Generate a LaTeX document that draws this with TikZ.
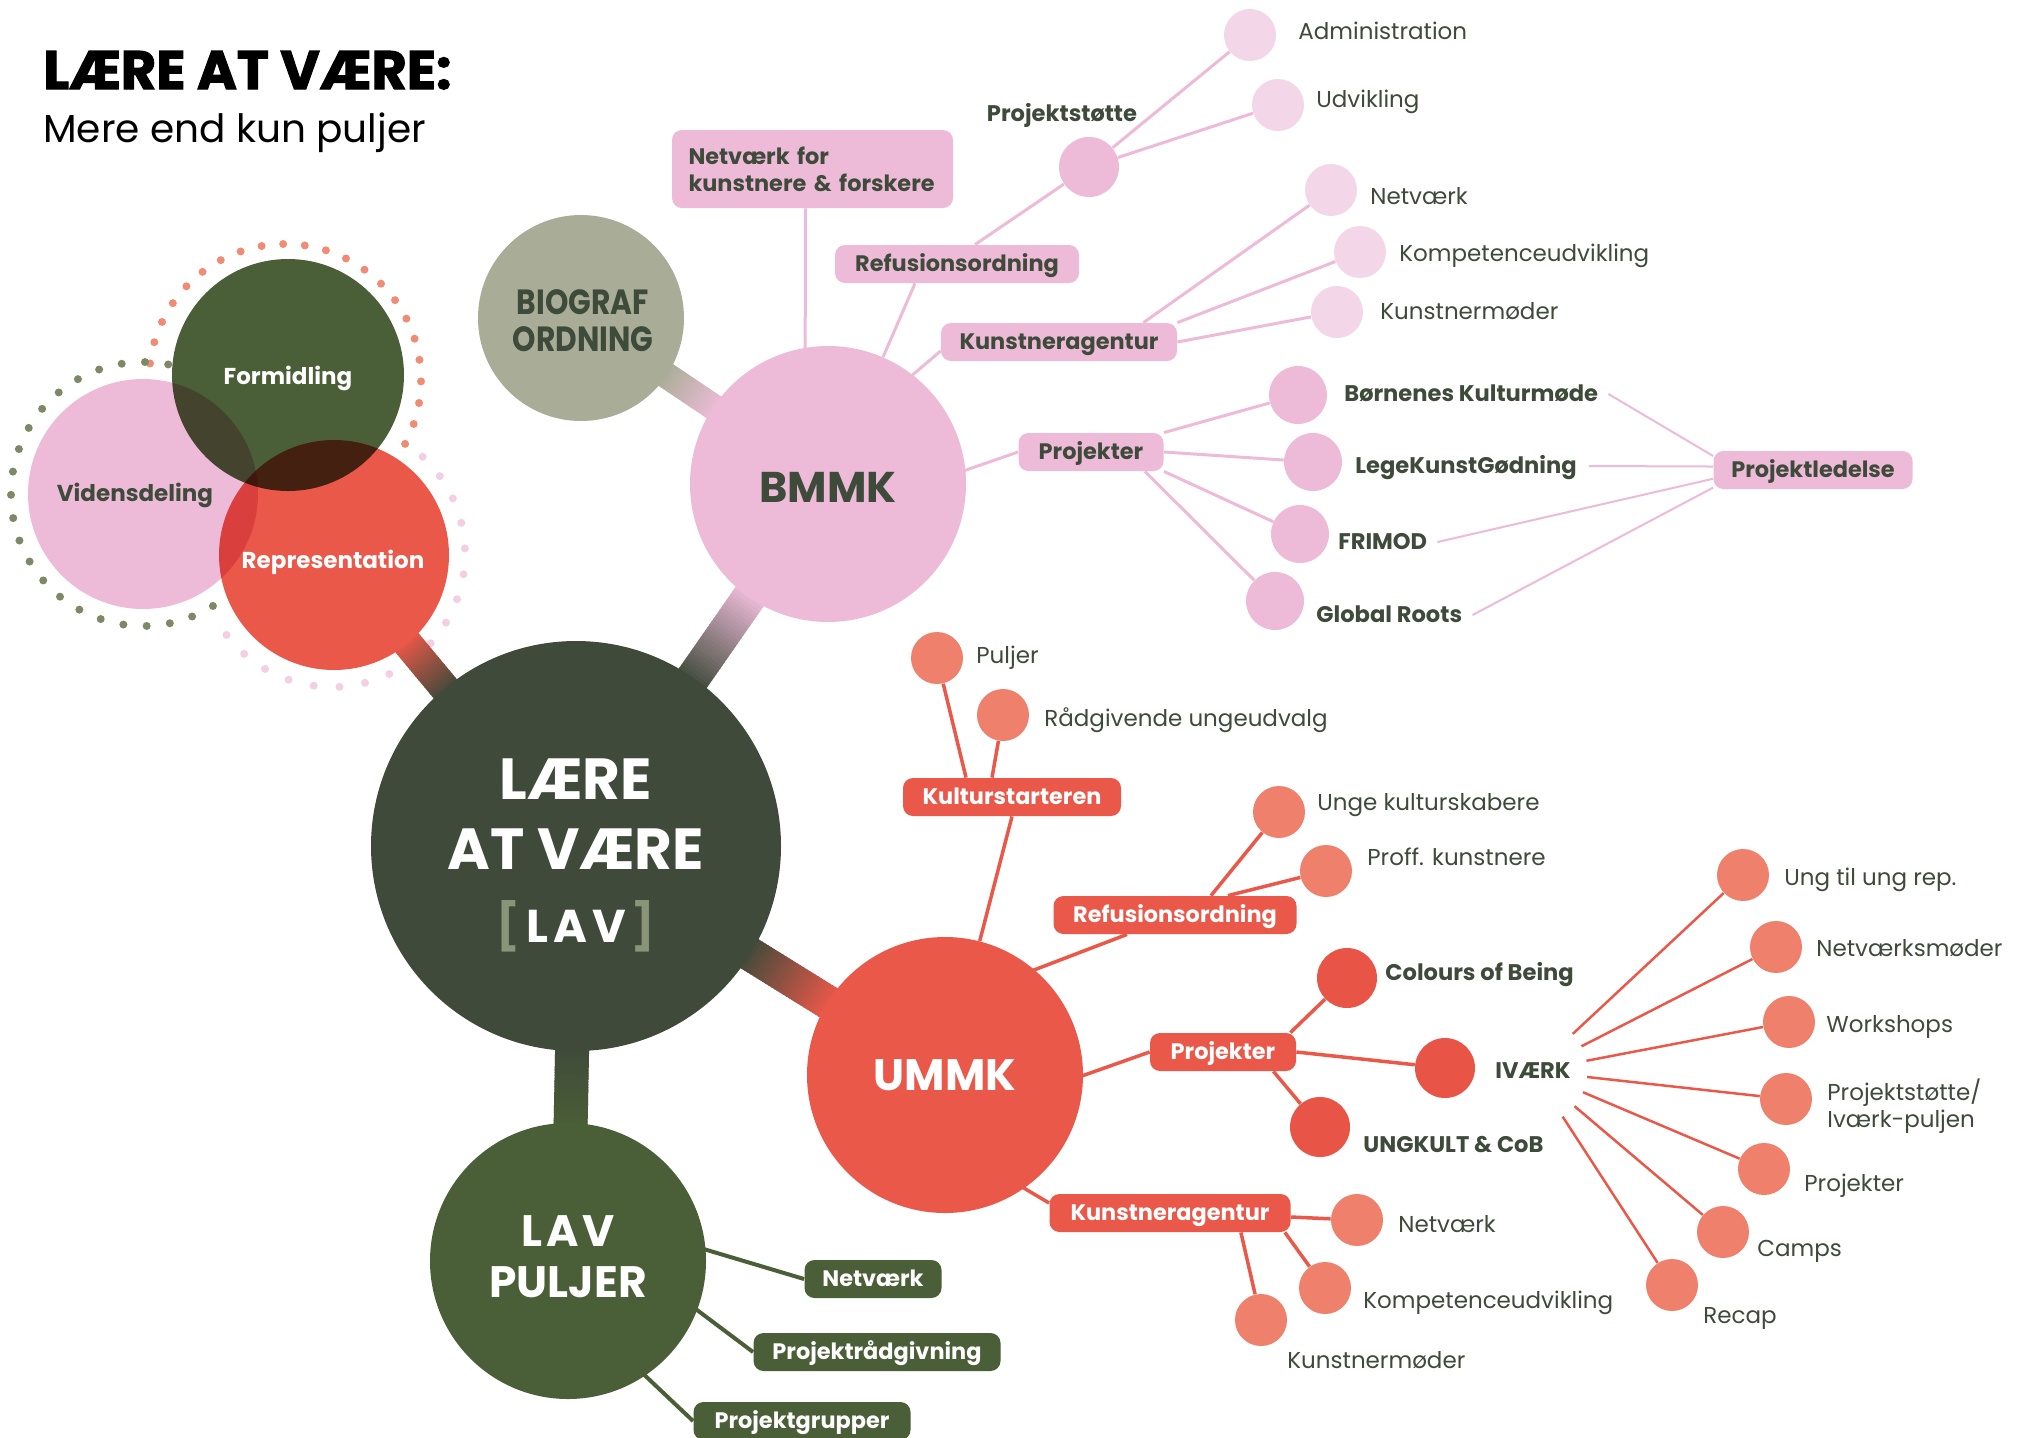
\documentclass[tikz,border=0pt]{standalone}
\usepackage{fontspec}
\usepackage{graphicx}
\setmainfont{Poppins}
\newfontfamily\condfont[FakeStretch=0.85]{Poppins}
\newfontfamily\heavyfont[FakeBold=2]{Poppins}
\usetikzlibrary{calc}
\pgfdeclarelayer{back}
\pgfdeclarelayer{bg}
\pgfsetlayers{back,bg,main}
\definecolor{dk}{HTML}{3F4A3A}
\definecolor{txt}{HTML}{3E4A3A}
\definecolor{lavg}{HTML}{4A5E37}
\definecolor{pinkM}{HTML}{EDBBD8}
\definecolor{pinkL}{HTML}{F4D6E9}
\definecolor{redM}{HTML}{EA5849}
\definecolor{redD}{HTML}{E85446}
\definecolor{salm}{HTML}{EF806B}
\definecolor{bio}{HTML}{A9AD97}
\definecolor{dotg}{HTML}{7D8866}
\definecolor{doto}{HTML}{F08B75}
\definecolor{dotp}{HTML}{F3CFE4}
\definecolor{brk}{HTML}{8A9478}
\newcommand\bandseg[5]{%
\foreach \i in {0,...,29}{%
 \pgfmathsetmacro\ta{\i/30}%
 \pgfmathsetmacro\tb{(\i+1.4)/30}%
 \pgfmathtruncatemacro\pc{100-\i*100/29}%
 \draw[line width=#5,draw={#3!\pc!#4}] ($(#1)!\ta!(#2)$) -- ($(#1)!\tb!(#2)$);}}
\tikzset{
 circ/.style={circle, inner sep=0pt, minimum size=#1},
 ctext/.style={inner sep=0pt, text depth=0pt},
 lbl/.style={anchor=west, inner sep=0pt, text=txt, font=\fontsize{11.5}{13}\selectfont, text height=8pt, text depth=0pt},
 blbl/.style={anchor=west, inner sep=0pt, text=txt, font=\fontsize{11.3}{13}\selectfont\bfseries, text height=7.9pt, text depth=0pt},
 box/.style={rounded corners=5pt, minimum height=19pt, inner xsep=7pt, inner ysep=0pt, font=\fontsize{11.2}{13}\selectfont\bfseries},
 sbox/.style={box, text height=7.8pt, text depth=0pt},
 pbox/.style={sbox, fill=pinkM, text=txt},
 rbox/.style={sbox, fill=redM, text=white},
 gbox/.style={sbox, fill=lavg, text=white},
 pline/.style={draw=pinkM, line width=1.5pt},
 tline/.style={draw=pinkM, line width=1pt},
 rline/.style={draw=redM, line width=1.75pt},
 iline/.style={draw=redM, line width=1.25pt},
 gline/.style={draw=lavg, line width=2pt},
}
\begin{document}
\begin{tikzpicture}[x=0.5pt,y=-0.5pt]
\useasboundingbox (0,0) rectangle (2020,1437);
\begin{pgfonlayer}{back}
\fill[white] (0,0) rectangle (2020,1437);
\end{pgfonlayer}

% ---------- title ----------
\node[anchor=base west, inner sep=0pt] (title) at (43,89) {\resizebox{204pt}{19pt}{\heavyfont\bfseries LÆRE AT VÆRE:}};
\node[anchor=base west, inner sep=0pt, font=\fontsize{19.5}{21}\selectfont] (subtitle) at (43,142) {Mere end kun puljer};

% ---------- big circles ----------
\node[circ=205pt, fill=dk] (main) at (576,846) {};
\node[circ=138pt, fill=lavg] (lav) at (568,1261) {};
\node[circ=138pt, fill=redM] (ummk) at (945,1075) {};
\node[circ=138pt, fill=pinkM] (bmmk) at (828,484) {};
\node[circ=103pt, fill=bio] (bio) at (581,318) {};

\begin{scope}[blend group=multiply]
\node[circ=115pt, fill=pinkM] (viden) at (143,494) {};
\node[circ=116pt, fill=lavg] (formid) at (288,375) {};
\node[circ=115pt, fill=redM] (repr) at (334,555) {};
\end{scope}

\node[ctext, text=white, font=\fontsize{11.5}{13}\selectfont\bfseries, text height=8pt] (t-formid) at (288,376) {Formidling};
\node[ctext, text=txt, font=\fontsize{11.5}{13}\selectfont\bfseries, text height=8pt] (t-viden) at (135,493) {Vidensdeling};
\node[ctext, text=white, font=\fontsize{11.5}{13}\selectfont\bfseries, text height=8pt] (t-repr) at (333,560) {Representation};

\node[ctext, text=white, font=\fontsize{29}{30}\selectfont\bfseries, text height=20.3pt] (t-laere) at (576,779) {LÆRE};
\node[ctext, text=white, font=\fontsize{29}{30}\selectfont\bfseries, text height=20.3pt] (t-atvaere) at (576,849) {AT VÆRE};
\node[ctext, text=white, font=\fontsize{23}{24}\selectfont\bfseries, text height=16.1pt] (t-lavb) at (576,926) {\textcolor{brk}{[}\hspace{3pt}L\hspace{2.5pt}A\hspace{2.5pt}V\hspace{3pt}\textcolor{brk}{]}};
\node[ctext, text=white, font=\fontsize{22}{24}\selectfont\bfseries, text height=15.4pt] (t-lav) at (568,1231) {L\hspace{2pt}A\hspace{2pt}V};
\node[ctext, text=white, font=\fontsize{22}{24}\selectfont\bfseries, text height=15.4pt] (t-puljer) at (568,1282) {PULJER};
\node[ctext, text=white, font=\fontsize{22}{24}\selectfont\bfseries, text height=15.4pt] (t-ummk) at (945,1075) {UMMK};
\node[ctext, text=txt, font=\fontsize{21.5}{24}\selectfont\bfseries, text height=15pt] (t-bmmk) at (828,487) {BMMK};
\node[ctext, text=txt, font=\fontsize{17.5}{19}\condfont\bfseries, text height=12.2pt] (t-biograf) at (583,302) {BIOGRAF};
\node[ctext, text=txt, font=\fontsize{17.5}{19}\condfont\bfseries, text height=12.2pt] (t-ordning) at (583,339) {ORDNING};

% ---------- BMMK branch ----------
\node[box, fill=pinkM, text=txt, minimum width=140.5pt, minimum height=39pt, align=left, text width=124pt, font=\fontsize{11.2}{13.5}\selectfont\bfseries] (nf) at (812.5,169) {Netværk for\\kunstnere \& forskere};
\node[pbox, minimum width=122pt] (rs) at (957,264) {Refusionsordning};
\node[pbox, minimum width=118pt] (ka) at (1059,342) {Kunstneragentur};
\node[pbox, minimum width=72.5pt] (pj) at (1091,452) {Projekter};
\node[pbox, minimum width=99.5pt] (pl) at (1813,470) {Projektledelse};

\node[circ=30pt, fill=pinkM] (ps) at (1089,167) {};
\node[blbl, anchor=center] (l-ps) at (1062,114) {Projektstøtte};
\node[circ=26pt, fill=pinkL] (adm) at (1250,35) {};
\node[lbl] (l-adm) at (1298,31) {Administration};
\node[circ=26pt, fill=pinkL] (udv) at (1278,105) {};
\node[lbl] (l-udv) at (1316,99) {Udvikling};
\node[circ=26pt, fill=pinkL] (knet) at (1331,190) {};
\node[lbl] (l-knet) at (1370,196) {Netværk};
\node[circ=26pt, fill=pinkL] (kkomp) at (1360,252) {};
\node[lbl] (l-kkomp) at (1399,253) {Kompetenceudvikling};
\node[circ=26pt, fill=pinkL] (kmod) at (1337,312) {};
\node[lbl] (l-kmod) at (1380,311) {Kunstnermøder};

\node[circ=29pt, fill=pinkM] (bk) at (1298,395) {};
\node[blbl] (l-bk) at (1344,394) {Børnenes Kulturmøde};
\node[circ=29pt, fill=pinkM] (lk) at (1313,462) {};
\node[blbl] (l-lk) at (1355,466) {LegeKunstGødning};
\node[circ=29pt, fill=pinkM] (fr) at (1300,534) {};
\node[blbl] (l-fr) at (1338,542) {FRIMOD};
\node[circ=29pt, fill=pinkM] (gr) at (1275,601) {};
\node[blbl] (l-gr) at (1316,615) {Global Roots};

% ---------- UMMK branch ----------
\node[rbox, minimum width=109pt] (ks) at (1012,797) {Kulturstarteren};
\node[rbox, minimum width=121.5pt] (urs) at (1175,915) {Refusionsordning};
\node[rbox, minimum width=73pt] (upj) at (1223,1052) {Projekter};
\node[rbox, minimum width=120.5pt] (uka) at (1170,1213) {Kunstneragentur};

\node[circ=26pt, fill=salm] (pu) at (937,658) {};
\node[lbl] (l-pu) at (976,655) {Puljer};
\node[circ=26pt, fill=salm] (ru) at (1003,715) {};
\node[lbl] (l-ru) at (1044,718) {Rådgivende ungeudvalg};
\node[circ=26pt, fill=salm] (uk) at (1279,812) {};
\node[lbl] (l-uk) at (1317,802) {Unge kulturskabere};
\node[circ=26pt, fill=salm] (pk) at (1326,871) {};
\node[lbl] (l-pk) at (1367,857) {Proff. kunstnere};

\node[circ=30pt, fill=redD] (cob) at (1347,978) {};
\node[blbl] (l-cob) at (1385,973) {Colours of Being};
\node[circ=30pt, fill=redD] (iv) at (1445,1068) {};
\node[blbl, anchor=center, circle, minimum size=54pt] (l-iv) at (1533,1071) {IVÆRK};
\node[circ=30pt, fill=redD] (ung) at (1320,1127) {};
\node[blbl] (l-ung) at (1363,1145) {UNGKULT \& CoB};

\node[circ=26pt, fill=salm] (ur) at (1743,875) {};
\node[lbl] (l-ur) at (1784,877) {Ung til ung rep.};
\node[circ=26pt, fill=salm] (nm) at (1776,947) {};
\node[lbl] (l-nm) at (1816,948) {Netværksmøder};
\node[circ=26pt, fill=salm] (ws) at (1789,1022) {};
\node[lbl] (l-ws) at (1826,1024) {Workshops};
\node[circ=26pt, fill=salm] (pi) at (1786,1099) {};
\node[anchor=west, inner sep=0pt, text=txt, font=\fontsize{11.5}{13.5}\selectfont, align=left] (l-pi) at (1827,1106) {Projektstøtte/\\Iværk-puljen};
\node[circ=26pt, fill=salm] (pr) at (1764,1169) {};
\node[lbl] (l-pr) at (1804,1183) {Projekter};
\node[circ=26pt, fill=salm] (ca) at (1723,1232) {};
\node[lbl] (l-ca) at (1757,1248) {Camps};
\node[circ=26pt, fill=salm] (re) at (1672,1285) {};
\node[lbl] (l-re) at (1703,1315) {Recap};

\node[circ=26pt, fill=salm] (un) at (1357,1220) {};
\node[lbl] (l-un) at (1398,1224) {Netværk};
\node[circ=26pt, fill=salm] (kk) at (1325,1288) {};
\node[lbl] (l-kk) at (1363,1300) {Kompetenceudvikling};
\node[circ=26pt, fill=salm] (km) at (1261,1320) {};
\node[lbl] (l-km) at (1287,1360) {Kunstnermøder};

% ---------- LAV branch ----------
\node[gbox, minimum width=68.5pt] (lnet) at (873,1279) {Netværk};
\node[gbox, minimum width=123.5pt] (lpr) at (877,1352) {Projektrådgivning};
\node[gbox, minimum width=108.5pt] (lpg) at (802,1421) {Projektgrupper};

% free ends hidden inside circles
\coordinate (nfb) at (805,420);
\coordinate (kab) at (895,390);
\coordinate (pjb) at (940,479);
\coordinate (ursb) at (1000,983);
\coordinate (upjb) at (1045,1089);
\coordinate (ukab) at (990,1168);
\coordinate (lnb) at (640,1230);
\coordinate (lprb) at (633,1262);
\coordinate (lpgb) at (600,1333);

\begin{pgfonlayer}{bg}
% dotted rings (beneath the bands)
\foreach \k in {0,...,22}{\pgfmathsetmacro\ang{-(173-\k*201/22)}\fill[doto] (285,380) ++(\ang:136) circle (4);}
\foreach \k in {0,...,22}{\pgfmathsetmacro\ang{-(79+\k*223/22)}\fill[dotg] (143,494) ++(\ang:132) circle (4);}
\foreach \k in {0,...,17}{\pgfmathsetmacro\ang{-(47-\k*189.5/17)}\fill[dotp] (332,554) ++(\ang:133) circle (4);}

% gradient bands
\coordinate (b1a) at ($(main.center)!99pt!(ummk.center)$);
\coordinate (b1b) at ($(ummk.center)!66pt!(main.center)$);
\bandseg{b1a}{b1b}{dk}{redM}{17pt}
\coordinate (b2a) at ($(main.center)!99pt!(bmmk.center)$);
\coordinate (b2b) at ($(bmmk.center)!66pt!(main.center)$);
\bandseg{b2a}{b2b}{dk}{pinkM}{17pt}
\coordinate (b3a) at ($(repr.center)!55pt!(main.center)$);
\coordinate (b3b) at ($(main.center)!99pt!(repr.center)$);
\bandseg{b3a}{b3b}{redM}{dk}{15pt}
\coordinate (b4a) at ($(bio.center)!49pt!(bmmk.center)$);
\coordinate (b4b) at ($(bmmk.center)!66pt!(bio.center)$);
\bandseg{b4a}{b4b}{bio}{pinkM}{13pt}
\coordinate (b5a) at ($(main.center)!99pt!(lav.center)$);
\coordinate (b5b) at ($(lav.center)!66pt!(main.center)$);
\bandseg{b5a}{b5b}{dk}{lavg}{17pt}

% BMMK connectors
\draw[pline] ($(nf.south)+(-7,0)$) -- (nfb);
\draw[pline] ($(rs.south)+(-42,0)$) -- (bmmk);
\draw[pline] ($(rs.north)+(18,0)$) -- (ps);
\draw[pline] (ps) -- (adm);
\draw[pline] (ps) -- (udv);
\draw[pline] ($(ka.west)+(0,9)$) -- (kab);
\draw[pline] ($(ka.north east)+(-34,0)$) -- (knet);
\draw[pline] (ka.north east) -- (kkomp);
\draw[pline] (ka.east) -- (kmod);
\draw[pline] (pj.west) -- (pjb);
\draw[pline] (pj.north east) -- (bk);
\draw[pline] (pj.east) -- (lk);
\draw[pline] (pj.south east) -- (fr);
\draw[pline] ($(pj.south east)+(-19,0)$) -- (gr);
\draw[tline] ($(l-bk.east)+(10,0)$) -- (pl.172);
\draw[tline] ($(l-lk.east)+(12,0)$) -- (pl.178);
\draw[tline] ($(l-fr.east)+(10,0)$) -- (pl.185);
\draw[tline] ($(l-gr.east)+(10,0)$) -- (pl.190);

% UMMK connectors
\draw[rline] ($(ks.north)+(-46,0)$) -- (pu);
\draw[rline] ($(ks.north)+(-20,0)$) -- (ru);
\draw[rline] (ks.south) -- (ummk);
\draw[rline] ($(urs.north)+(36,0)$) -- (uk);
\draw[rline] ($(urs.north)+(53,0)$) -- (pk);
\draw[rline] ($(urs.south)+(-48,0)$) -- (ursb);
\draw[rline] (upj.west) -- (upjb);
\draw[rline] ($(upj.north east)+(-6,0)$) -- (cob);
\draw[rline] (upj.east) -- (iv);
\draw[rline] ($(upj.south east)+(-23,0)$) -- (ung);
\foreach \t in {ur,nm,ws,pi,pr,ca,re}{\draw[iline] (l-iv) -- (\t);}
\draw[rline] ($(uka.west)+(0,-10)$) -- (ukab);
\draw[rline] ($(uka.east)+(0,4)$) -- (un);
\draw[rline] ($(uka.south east)+(-6,0)$) -- (kk);
\draw[rline] ($(uka.south east)+(-50,0)$) -- (km);

% LAV connectors
\draw[gline] (lnet.west) -- (lnb);
\draw[gline] (lpr.west) -- (lprb);
\draw[gline] (lpg.west) -- (lpgb);
\end{pgfonlayer}
\end{tikzpicture}
\end{document}
